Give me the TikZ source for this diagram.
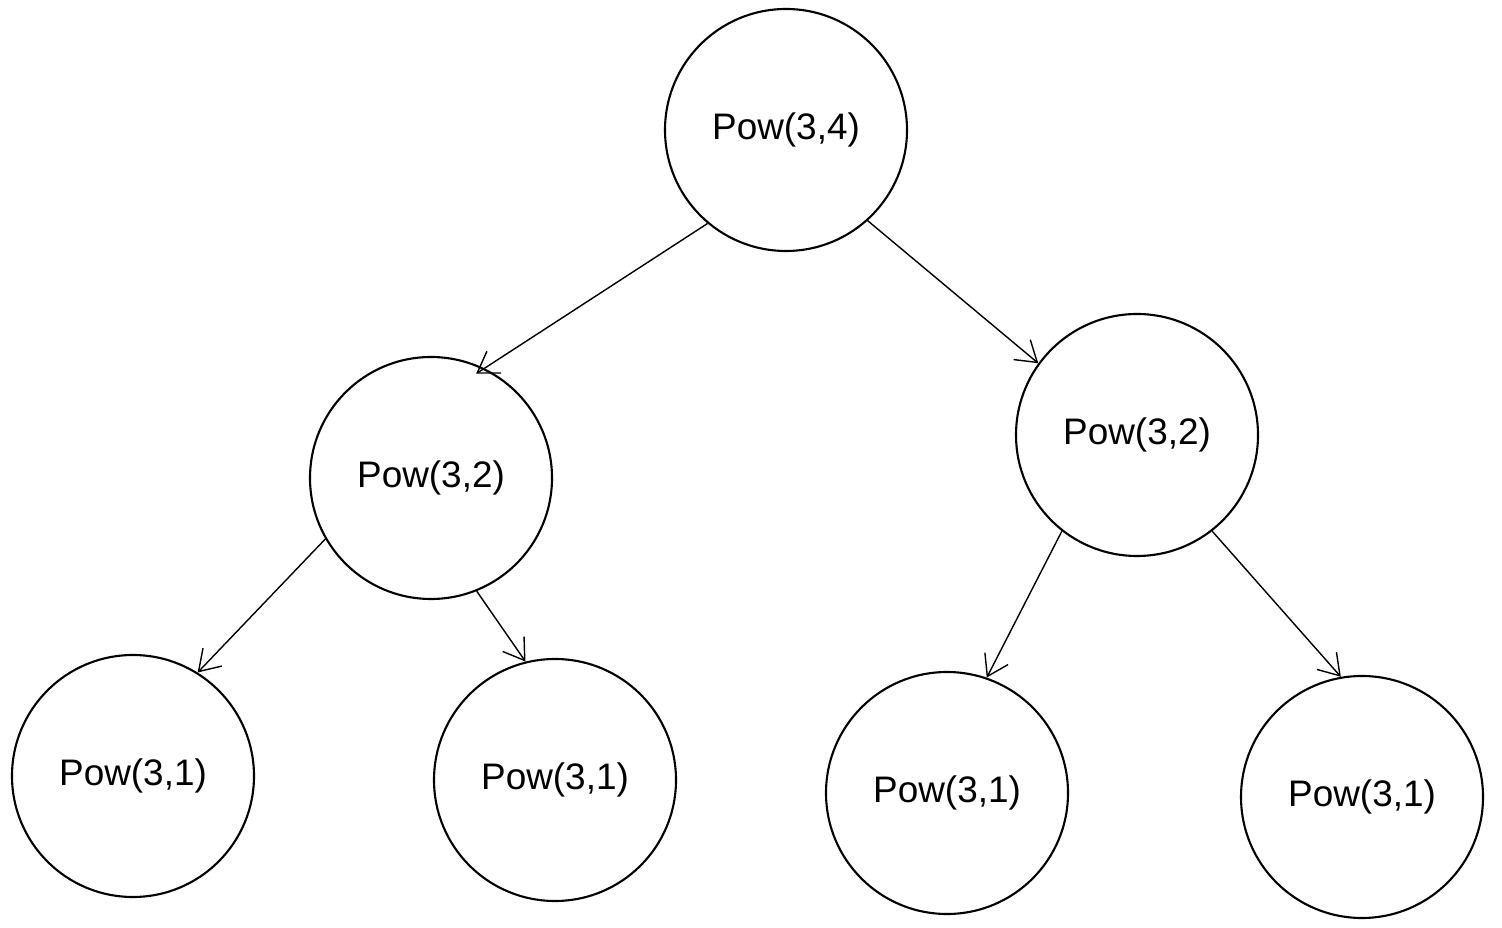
\documentclass[tikz,border=0pt]{standalone}
\usepackage{fontspec}
\setmainfont{Liberation Sans}
\usetikzlibrary{arrows.meta}
\begin{document}
\begin{tikzpicture}[
    call/.style={draw, circle, semithick, minimum size=2.42cm, inner sep=0pt,
                 font=\fontsize{10.5}{12}\selectfont},
    edge/.style={-{Straight Barb[length=2mm,width=2.6mm]}, thin}]

            \useasboundingbox (0,0) rectangle (15.02,9.27);

            \node[call] (root) at (7.86,7.97) {Pow(3,4)};

            \node[call] (left) at (4.31,4.49) {Pow(3,2)};
            \node[call] (right) at (11.37,4.92) {Pow(3,2)};

            \node[call] (ll) at (1.33,1.51) {Pow(3,1)};
            \node[call] (lr) at (5.55,1.47) {Pow(3,1)};
            \node[call] (rl) at (9.47,1.34) {Pow(3,1)};
            \node[call] (rr) at (13.62,1.30) {Pow(3,1)};

            \draw[edge, shorten >=-1mm] (root.230) -- (left.64);
            \draw[edge] (root.312) -- (right.144);

            \draw[edge] (left.210) -- (ll.58);
            \draw[edge] (left.292) -- (lr.104);
            \draw[edge] (right.232) -- (rl.71);
            \draw[edge] (right.308) -- (rr.100);

        \end{tikzpicture}
\end{document}
